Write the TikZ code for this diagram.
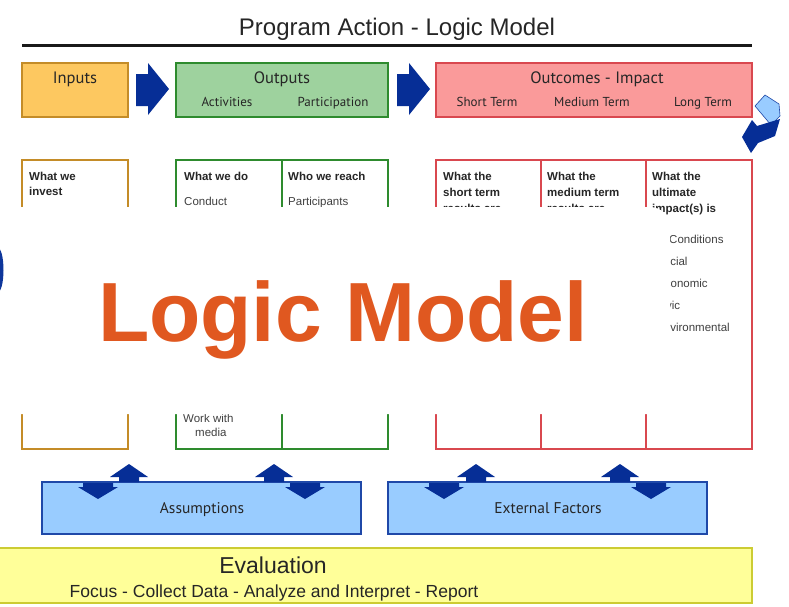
\documentclass[tikz,border=0pt]{standalone}
\usepackage{fontspec}
\setmainfont{Liberation Sans}
\newfontfamily\hdfont{PT Sans}
\definecolor{inFill}{RGB}{253,200,96}
\definecolor{inLine}{RGB}{196,140,40}
\definecolor{outFill}{RGB}{158,210,158}
\definecolor{outLine}{RGB}{46,139,46}
\definecolor{ocFill}{RGB}{250,154,154}
\definecolor{ocLine}{RGB}{217,72,79}
\definecolor{arrowBlue}{RGB}{6,46,150}
\definecolor{skyFill}{RGB}{153,204,255}
\definecolor{skyLine}{RGB}{31,72,168}
\definecolor{evFill}{RGB}{255,255,153}
\definecolor{evLine}{RGB}{204,204,51}
\definecolor{bigText}{RGB}{224,88,32}
\tikzset{
  headbox/.style={draw=#1, line width=2.5pt},
  detailbox/.style={draw=#1, line width=2pt},
  hdtext/.style={font=\hdfont\fontsize{16.5}{18}\selectfont, text=black!85, anchor=base},
  subtext/.style={font=\hdfont\fontsize{13}{15}\selectfont, text=black!85, anchor=base},
  boldtext/.style={font=\bfseries\fontsize{11.5}{13}\selectfont, text=black!85, anchor=base west, inner sep=0pt},
  listtext/.style={font=\fontsize{11.5}{13}\selectfont, text=black!75, anchor=base west, inner sep=0pt},
  blockarrow/.style={fill=arrowBlue},
  pics/uparrow/.style={code={
    \fill[arrowBlue] (-10,0) -- (-10,-5) -- (-19,-5) -- (0,-18) -- (19,-5) -- (10,-5) -- (10,0) -- cycle;}},
  pics/downarrow/.style={code={
    \fill[arrowBlue] (-15,1) -- (-15,5) -- (-20,5) -- (0,17) -- (20,5) -- (15,5) -- (15,1) -- cycle;}}
}
\begin{document}
\begin{tikzpicture}[x=1pt,y=-1pt]
\useasboundingbox (0,0) rectangle (789,606);
\clip (0,0) rectangle (789,606);
\fill[white] (0,0) rectangle (789,606);

% title and rule
\node[anchor=base, inner sep=0pt, text=black!85, font=\fontsize{24}{27}\selectfont] (title) at (397,35) {Program Action - Logic Model};
\coordinate (ruleL) at (22,45.5);
\coordinate (ruleR) at (752,45.5);
\draw[line width=3.5pt, black!90] (ruleL) -- (ruleR);

% header boxes
\filldraw[headbox=inLine, fill=inFill] (22,63) rectangle (128,117);
\node[hdtext] (inputs) at (75,83) {Inputs};
\filldraw[headbox=outLine, fill=outFill] (176,63) rectangle (388,117);
\node[hdtext] (outputs) at (282,83) {Outputs};
\node[subtext] (activities) at (227,106) {Activities};
\node[subtext] (participation) at (333,106) {Participation};
\filldraw[headbox=ocLine, fill=ocFill] (436,63) rectangle (752,117);
\node[hdtext] (outcomes) at (597,83) {Outcomes - Impact};
\node[subtext] (short) at (487,106) {Short Term};
\node[subtext] (medium) at (592,106) {Medium Term};
\node[subtext] (long) at (703,106) {Long Term};

% block arrows between header boxes
\fill[blockarrow] (136,74) -- (148,74) -- (148,63) -- (169,89) -- (148,115) -- (148,106) -- (136,106) -- cycle;
\fill[blockarrow] (397,74) -- (409,74) -- (409,63) -- (430,89) -- (409,115) -- (409,106) -- (397,106) -- cycle;

% return loop at the right
\filldraw[fill=skyFill, draw=skyLine, line width=0.6pt] (765,95) -- (779,104) -- (780,116) -- (771,125) -- (755,106) -- cycle;
\fill[blockarrow] (742,137) -- (752,120) -- (757,126) -- (780,119) -- (775,136) -- (758,143) -- (751,153) -- cycle;

% detail boxes
\draw[detailbox=inLine] (22,160) rectangle (128,449);
\draw[detailbox=outLine] (176,160) rectangle (388,449);
\draw[detailbox=outLine] (282,160) -- (282,449);
\draw[detailbox=ocLine] (436,160) rectangle (752,449);
\draw[detailbox=ocLine] (541,160) -- (541,449);
\draw[detailbox=ocLine] (646,160) -- (646,449);

\node[boldtext] (invest1) at (29,180) {What we};
\node[boldtext] (invest2) at (29,195) {invest};
\node[boldtext] (do1) at (184,180) {What we do};
\node[listtext] (do2) at (184,205) {Conduct};
\node[listtext] (do3) at (183,422) {Work with};
\node[listtext] (do4) at (195,436) {media};
\node[boldtext] (reach1) at (288,180) {Who we reach};
\node[listtext] (reach2) at (288,205) {Participants};
\node[boldtext] (st1) at (443,180) {What the};
\node[boldtext] (st2) at (443,196) {short term};
\node[boldtext] (st3) at (443,212) {results are};
\node[boldtext] (mt1) at (547,180) {What the};
\node[boldtext] (mt2) at (547,196) {medium term};
\node[boldtext] (mt3) at (547,212) {results are};
\node[boldtext] (lt1) at (652,180) {What the};
\node[boldtext] (lt2) at (652,196) {ultimate};
\node[boldtext] (lt3) at (652,212) {impact(s) is};
\node[listtext] (c0) at (669,243) {Conditions};
\node[listtext] (c1) at (656,265) {Social};
\node[listtext] (c2) at (657,287) {Economic};
\node[listtext] (c3) at (655,309) {Civic};
\node[listtext] (c4) at (656,331) {Environmental};

% loop arrow tip at the left edge
\fill[arrowBlue!70!skyLine] (-2,270) ellipse (5.5 and 22);

% title card laid over the model
\fill[white] (5,207) [rounded corners=20pt] -- (670,207) -- (670,414) [sharp corners] -- (5,414) -- cycle;
\node[anchor=base, inner sep=0pt, text=bigText, font=\bfseries\fontsize{84}{88}\selectfont] (logic) at (343,341) {Logic Model};

% assumptions and external factors
\filldraw[detailbox=skyLine, line width=2.5pt, fill=skyFill] (42,482) rectangle (361,534);
\node[subtext, font=\hdfont\fontsize{15.5}{17}\selectfont] (assump) at (202,513) {Assumptions};
\filldraw[detailbox=skyLine, line width=2.5pt, fill=skyFill] (388,482) rectangle (707,534);
\node[subtext, font=\hdfont\fontsize{15.5}{17}\selectfont] (external) at (548,513) {External Factors};

\pic at (129,482) {uparrow};
\pic at (98,482) {downarrow};
\pic at (274,482) {uparrow};
\pic at (305,482) {downarrow};
\pic at (476,482) {uparrow};
\pic at (444,482) {downarrow};
\pic at (620,482) {uparrow};
\pic at (651,482) {downarrow};

% evaluation
\filldraw[draw=evLine, line width=2.5pt, fill=evFill] (-3,548) rectangle (752,603);
\node[anchor=base, inner sep=0pt, text=black!85, font=\fontsize{23}{26}\selectfont] (eval) at (273,573) {Evaluation};
\node[anchor=base, inner sep=0pt, text=black!85, font=\fontsize{17.5}{19}\selectfont] (evalsteps) at (274,597) {Focus - Collect Data - Analyze and Interpret - Report};
\end{tikzpicture}
\end{document}
